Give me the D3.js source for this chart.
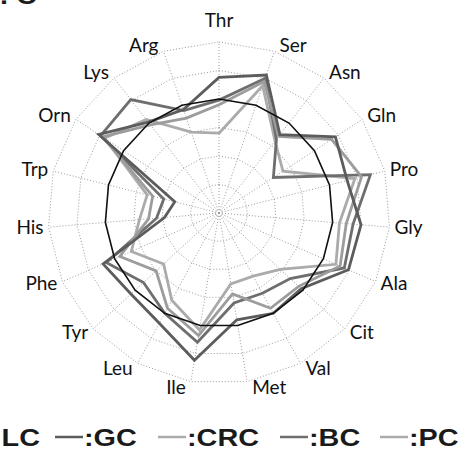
<!DOCTYPE html>
<html>
<head>
<meta charset="utf-8">
<script src="https://cdn.jsdelivr.net/npm/d3@7"></script>
<style>
  html, body { margin: 0; padding: 0; background: white; }
  #container { width: 463px; height: 459px; overflow: hidden; }
</style>
</head>
<body>
<div id="container"></div>
<script>
// axes, clockwise from the top
let aminoAcids = ['Thr','Ser','Asn','Gln','Pro','Gly','Ala','Cit','Val','Met',
                  'Ile','Leu','Tyr','Phe','His','Trp','Orn','Lys','Arg'];

let gridTicks = [25, 50, 75, 100, 125, 150];

// values (LC = reference, about 100)
let lcValues  = [100,100,100,100,100,100,100,100,100,100,100,100,100,100,100,100,100,100,100];
let gcValues  = [119,128, 87,122,116,125,124, 98,100, 95,131,110,105,111, 48, 40,126,101, 96];
let crcValues = [ 95,122, 85,118,129,112,116, 95, 95, 72,109, 95, 75, 95, 62, 60,122, 98, 88];
let bcValues  = [ 99,125, 82, 57,137,118,120, 85, 80, 80,115,100, 90,108, 55, 50,124,126, 95];
let pcValues  = [ 70,118, 80, 67,123,106,112, 73, 63, 63,104, 87, 66, 84, 70, 65,120,104, 75];

let seriesNames = ['LC', 'GC', 'CRC', 'BC', 'PC'];

let w = 463,
    h = 459,
    cx = 219,
    cy = 213,
    radius = 171;

let viz = d3.select('#container')
    .append('svg')
      .attr('id', 'viz')
      .attr('width', w)
      .attr('height', h)
      .style('background', 'white')
;

function main() {
    let n = aminoAcids.length;
    let angle = d3.scaleLinear().domain([0, n]).range([0, 2 * Math.PI]);
    let r = d3.scaleLinear().domain([0, 150]).range([0, radius]);

    let chart = viz.append('g')
        .attr('transform', 'translate(' + cx + ',' + cy + ')');

    // dotted grid rings (polygons)
    let ring = d3.lineRadial()
        .angle((d, i) => angle(i))
        .radius(d => r(d))
        .curve(d3.curveLinearClosed);

    chart.append('g')
        .attr('class', 'rings')
        .selectAll('path')
        .data(gridTicks)
        .enter().append('path')
          .attr('d', t => ring(aminoAcids.map(() => t)))
          .style('fill', 'none')
          .style('stroke', '#9a9a9a')
          .style('stroke-width', 1)
          .style('stroke-dasharray', '1,2');

    // spokes
    chart.append('g')
        .attr('class', 'spokes')
        .selectAll('line')
        .data(aminoAcids)
        .enter().append('line')
          .attr('x1', 0)
          .attr('y1', 0)
          .attr('x2', (d, i) => r(150) * Math.sin(angle(i)))
          .attr('y2', (d, i) => -r(150) * Math.cos(angle(i)))
          .style('stroke', '#9a9a9a')
          .style('stroke-width', 1)
          .style('stroke-dasharray', '1,2');

    // axis labels
    chart.append('g')
        .attr('font-family', 'Lato, "Open Sans", sans-serif')
        .attr('font-size', 19)
        .attr('fill', '#111')
        .selectAll('text')
        .data(aminoAcids)
        .enter().append('text')
          .attr('text-anchor', (d, i) => {
              let s = Math.sin(angle(i));
              if (Math.abs(s) < 0.05) return 'middle';
              return s > 0 ? 'start' : 'end';
          })
          .attr('x', (d, i) => {
              let s = Math.sin(angle(i));
              return r(150) * s + (Math.abs(s) < 0.05 ? 0 : (s > 0 ? 5 : -5));
          })
          .attr('y', (d, i) => {
              let c = Math.cos(angle(i));
              let y = -r(150) * c;
              if (c > 0.99) return y - 15;   // Thr on top
              return y - c * 6 + 6;
          })
          .text(d => d);

    // series
    let line = d3.lineRadial()
        .angle((d, i) => angle(i))
        .radius(d => r(d))
        .curve(d3.curveLinearClosed);

    let series = [
        {name: 'PC',  values: pcValues,  color: '#ababab', width: 2.8},
        {name: 'BC',  values: bcValues,  color: '#6e6e6e', width: 2.8},
        {name: 'CRC', values: crcValues, color: '#9c9c9c', width: 2.8},
        {name: 'GC',  values: gcValues,  color: '#5c5c5c', width: 2.8},
        {name: 'LC',  values: lcValues,  color: '#111111', width: 1.6}
    ];

    chart.append('g')
        .attr('class', 'series')
        .selectAll('path')
        .data(series)
        .enter().append('path')
          .attr('d', d => line(d.values))
          .style('fill', 'none')
          .style('stroke', d => d.color)
          .style('stroke-width', d => d.width)
          .style('stroke-linejoin', 'miter');

    // legend (cut off on the left, like the scan)
    let legendItems = [
        {name: seriesNames[1], color: '#5c5c5c', x: 55},
        {name: seriesNames[2], color: '#ababab', x: 158},
        {name: seriesNames[3], color: '#6e6e6e', x: 280},
        {name: seriesNames[4], color: '#ababab', x: 380}
    ];

    let legend = viz.append('g')
        .attr('font-family', '"Liberation Sans", Arial, sans-serif')
        .attr('font-weight', 'bold')
        .attr('font-size', 24)
        .attr('fill', '#1a1a1a');

    legend.append('text')
        .attr('transform', 'translate(40,446) scale(1.2,1)')
        .attr('text-anchor', 'end')
        .text(':' + seriesNames[0]);

    legendItems.forEach(d => {
        legend.append('line')
            .attr('x1', d.x)
            .attr('x2', d.x + 28)
            .attr('y1', 437)
            .attr('y2', 437)
            .style('stroke', d.color)
            .style('stroke-width', 2.5);
        legend.append('text')
            .attr('transform', 'translate(' + (d.x + 29) + ',446) scale(1.2,1)')
            .text(':' + d.name);
    });

    // bits of the cut-off heading at the top edge
    viz.append('text')
        .attr('transform', 'translate(0,4) scale(1.2,1)')
        .attr('font-family', '"Liberation Sans", Arial, sans-serif')
        .attr('font-weight', 'bold')
        .attr('font-size', 24)
        .attr('fill', '#1a1a1a')
        .text('. C');
}

main();
</script>
</body>
</html>
